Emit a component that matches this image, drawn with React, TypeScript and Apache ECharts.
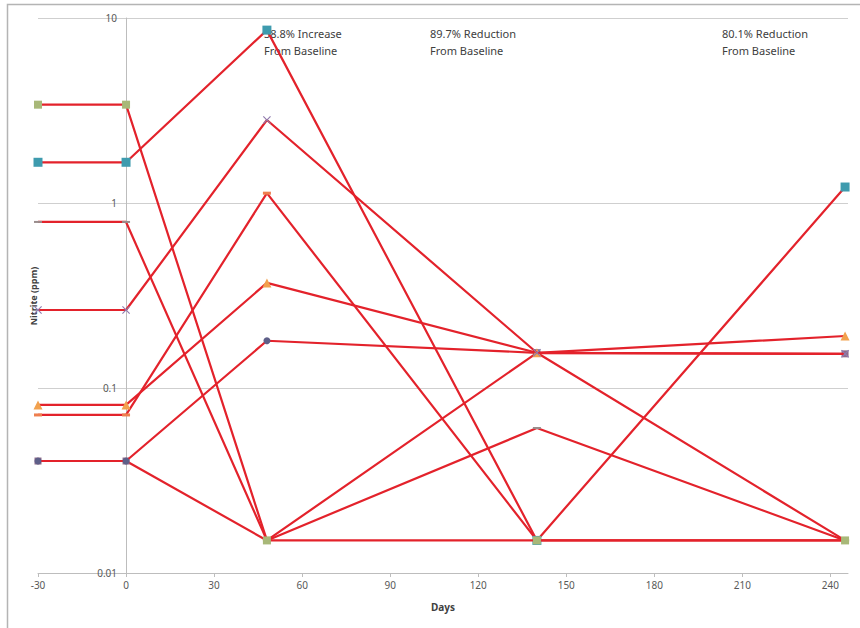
import React, { useEffect, useRef } from "react";
import * as echarts from "echarts";

// Sampling days and nitrite readings (ppm) for each monitoring point
const days = [-30, 0, 48, 140, 245];
const xTickLabels = [-30, 0, 30, 60, 90, 120, 150, 180, 210, 240];
const yTickLabels = ["0.01", "0.1", "1", "10"];

const seriesNames = ["MW-1", "MW-2", "MW-3", "MW-4", "MW-5", "MW-6", "MW-7", "MW-8"];
const mw1 = [0.0715, 0.0715, 1.13, 0.015, 0.015];
const mw2 = [0.79, 0.79, 0.015, 0.0608, 0.015];
const mw3 = [0.0403, 0.0403, 0.015, 0.155, 0.153];
const mw4 = [0.0403, 0.0403, 0.18, 0.155, 0.015];
const mw5 = [0.081, 0.081, 0.37, 0.155, 0.191];
const mw6 = [0.264, 0.264, 2.81, 0.155, 0.153];
const mw7 = [1.66, 1.66, 8.6, 0.015, 1.22];
const mw8 = [3.4, 3.4, 0.015, 0.015, 0.015];

const annotations = [
  { lines: ["38.8% Increase", "From Baseline"], x: 264 },
  { lines: ["89.7% Reduction", "From Baseline"], x: 430 },
  { lines: ["80.1% Reduction", "From Baseline"], x: 722 },
];

const xMark = "path://M0,1L1,0L5,4L9,0L10,1L6,5L10,9L9,10L5,6L1,10L0,9L4,5Z";

const markerStyles = [
  { symbol: "rect", size: [8, 3], color: "#EE7F4F" },
  { symbol: "rect", size: [8, 2], color: "#9A8C8C" },
  { symbol: "rect", size: 7, color: "#8E6C8A" },
  { symbol: "circle", size: 7, color: "#5E5F88" },
  { symbol: "triangle", size: 9, color: "#F2A14E" },
  { symbol: xMark, size: 8, color: "#8F7BAE" },
  { symbol: "rect", size: 9, color: "#3E9BAE" },
  { symbol: "rect", size: 8, color: "#A8B878" },
];

const values = [mw1, mw2, mw3, mw4, mw5, mw6, mw7, mw8];

export default function App() {
  const ref = useRef<HTMLDivElement>(null);

  useEffect(() => {
    document.body.style.margin = "0";
    if (!ref.current) return;
    const chart = echarts.init(ref.current, null, { renderer: "svg" });

    const font = "'Noto Sans', 'Liberation Sans', sans-serif";

    const series = values.map((vals, i) => ({
      name: seriesNames[i],
      type: "line",
      data: vals.map((v, j) => [days[j], v]),
      symbol: markerStyles[i].symbol,
      symbolSize: markerStyles[i].size,
      showSymbol: true,
      lineStyle: { color: "#E3222B", width: 2.2 },
      itemStyle: { color: markerStyles[i].color },
      z: 3 + i,
    }));

    const graphics: any[] = [
      {
        type: "rect",
        shape: { x: 7.5, y: 4.5, width: 900, height: 700 },
        style: { fill: "none", stroke: "#B4B4B4", lineWidth: 1.5 },
        silent: true,
        z: 0,
      },
      {
        type: "text",
        x: 33,
        y: 296,
        rotation: Math.PI / 2,
        style: {
          text: "Nitrite (ppm)",
          font: `bold 9px ${font}`,
          fill: "#404040",
          textAlign: "center",
          textVerticalAlign: "middle",
        },
        z: 1,
      },
    ];
    annotations.forEach((a) => {
      a.lines.forEach((t, k) => {
        graphics.push({
          type: "text",
          x: a.x,
          y: 33 + k * 17,
          style: {
            text: t,
            font: `11px ${font}`,
            fill: "#404040",
            textAlign: "left",
            textVerticalAlign: "middle",
          },
          z: 1,
        });
      });
    });

    chart.setOption({
      animation: false,
      backgroundColor: "#ffffff",
      grid: {
        left: 38,
        right: 12,
        top: 18,
        bottom: 55,
        containLabel: false,
        outerBoundsMode: "none",
      },
      xAxis: {
        type: "value",
        min: -30,
        max: 246,
        interval: 30,
        name: "Days",
        nameLocation: "middle",
        nameGap: 29,
        nameTextStyle: { fontFamily: font, fontWeight: "bold", fontSize: 10, color: "#404040" },
        axisLine: { onZero: false, lineStyle: { color: "#BDBDBD", width: 1 } },
        axisTick: {
          show: true,
          length: 4,
          customValues: xTickLabels,
          lineStyle: { color: "#BDBDBD" },
        },
        axisLabel: {
          customValues: xTickLabels,
          fontFamily: font,
          fontSize: 10,
          color: "#595959",
          margin: 7,
        },
        splitLine: { show: false },
      },
      yAxis: {
        type: "log",
        logBase: 10,
        min: 0.01,
        max: 10,
        axisLine: { show: true, onZero: true, lineStyle: { color: "#BDBDBD", width: 1 } },
        axisTick: { show: false },
        axisLabel: {
          fontFamily: font,
          fontSize: 10,
          color: "#595959",
          margin: -79,
          formatter: (v: number) => {
            const idx = Math.round(Math.log10(v)) + 2;
            return yTickLabels[idx] ?? String(v);
          },
        },
        splitLine: { show: true, lineStyle: { color: "#CFCFCF", width: 1 } },
      },
      graphic: graphics,
      series,
    });

    return () => chart.dispose();
  }, []);

  return <div ref={ref} style={{ width: 860, height: 628 }} />;
}
